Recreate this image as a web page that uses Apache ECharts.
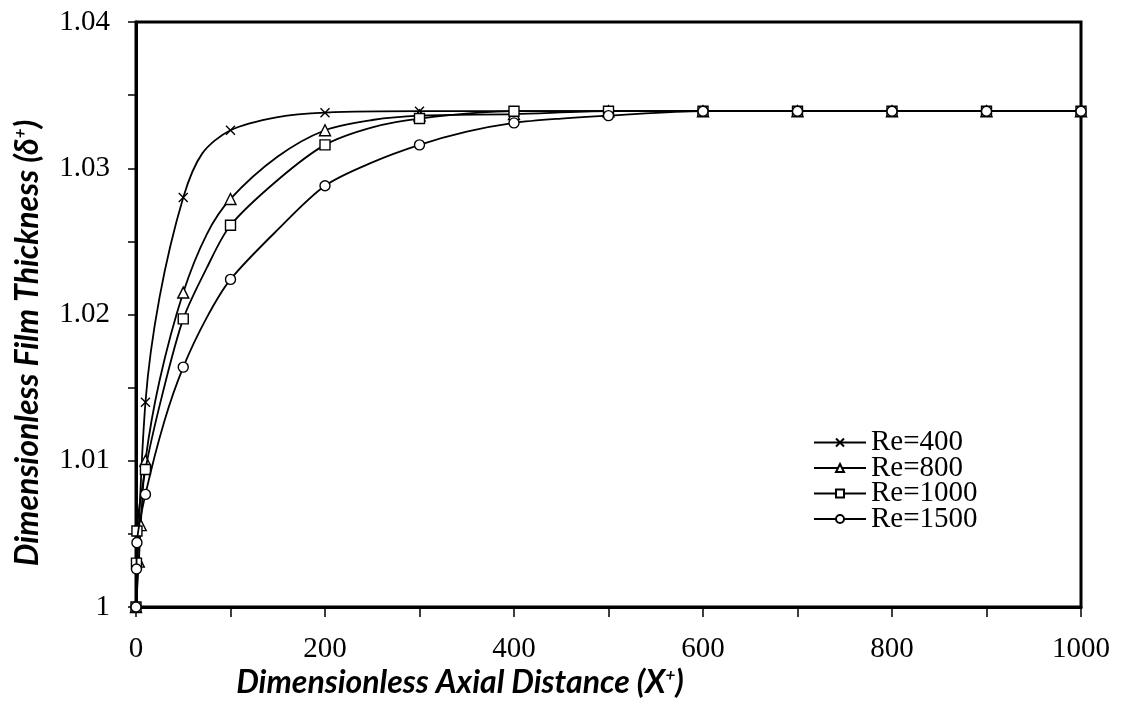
<!DOCTYPE html>
<html>
<head>
<meta charset="utf-8">
<title>Film thickness development</title>
<script src="https://cdn.jsdelivr.net/npm/echarts@6/dist/echarts.min.js"></script>
<style>
  html, body { margin: 0; padding: 0; background: #fff; }
  #chart { width: 1124px; height: 702px; }
</style>
</head>
<body>
<div id="chart"></div>
<script>
// Axis ticks
const xMin = 0, xMax = 1000, xStep = 100, xLabelStep = 200;
const yMin = 1, yMax = 1.04, yStep = 0.005, yLabelStep = 0.01;

// Series names and axis titles
const seriesNames = ['Re=400', 'Re=800', 'Re=1000', 'Re=1500'];
const xTitle = 'Dimensionless Axial Distance (X{s|+})';
const yTitle = 'Dimensionless Film Thickness (δ{s|+})';

// Marked data points [X+, delta+]
const re400Marks = [[0, 1], [10, 1.0140], [50, 1.0280], [100, 1.0326], [200, 1.0338], [300, 1.0339],
  [400, 1.0339], [500, 1.0339], [600, 1.0339], [700, 1.0339], [800, 1.0339], [900, 1.0339], [1000, 1.0339]];
const re800Marks = [[0, 1], [3, 1.0031], [5, 1.0056], [10, 1.0100], [50, 1.0215], [100, 1.0279], [200, 1.0326],
  [300, 1.0336], [400, 1.0337], [500, 1.0339], [600, 1.0339], [700, 1.0339], [800, 1.0339], [900, 1.0339], [1000, 1.0339]];
const re1000Marks = [[0, 1], [0.5, 1.0030], [1, 1.0052], [10, 1.0094], [50, 1.0197], [100, 1.0261], [200, 1.0316],
  [300, 1.0334], [400, 1.0339], [500, 1.0339], [600, 1.0339], [700, 1.0339], [800, 1.0339], [900, 1.0339], [1000, 1.0339]];
const re1500Marks = [[0, 1], [0.5, 1.0026], [1, 1.0044], [10, 1.0077], [50, 1.0164], [100, 1.0224], [200, 1.0288],
  [300, 1.0316], [400, 1.0331], [500, 1.0336], [600, 1.0339], [700, 1.0339], [800, 1.0339], [900, 1.0339], [1000, 1.0339]];

// Intermediate solution points (drawn as curve only)
const re400Curve = [[25, 1.0212], [70, 1.0310], [150, 1.0335]];
const re800Curve = [[25, 1.0155], [75, 1.0255], [150, 1.0308], [250, 1.0333]];
const re1000Curve = [[27, 1.0143], [75, 1.0232], [150, 1.0292], [250, 1.0328]];
const re1500Curve = [[30, 1.0127], [75, 1.0198], [150, 1.0258], [250, 1.0304], [350, 1.0325], [450, 1.0334]];

const marksList = [re400Marks, re800Marks, re1000Marks, re1500Marks];
const curveList = [re400Curve, re800Curve, re1000Curve, re1500Curve];

// Hollow marker shapes, one per Reynolds number
const crossPath = 'path://M0,0L10,10M10,0L0,10';
const symbols = [crossPath, 'triangle', 'rect', 'circle'];
const symbolSizes = [9, 11, 10, 10];

function buildData(marks, curve) {
  const items = marks.map(p => ({ value: p, marked: true }))
    .concat(curve.map(p => ({ value: p, marked: false })));
  items.sort((a, b) => a.value[0] - b.value[0]);
  return items.map(it => it.marked ? { value: it.value } : { value: it.value, symbol: 'none' });
}

const serifFont = '"Liberation Serif", "Times New Roman", serif';
const titleFont = 'Lato, "Open Sans", sans-serif';

const series = seriesNames.map((name, i) => ({
  name: name,
  type: 'line',
  data: buildData(marksList[i], curveList[i]),
  smooth: 0.3,
  clip: false,
  symbol: symbols[i],
  symbolSize: symbolSizes[i],
  showAllSymbol: true,
  lineStyle: { color: '#000', width: 1.8 },
  itemStyle: { color: '#fff', borderColor: '#000', borderWidth: 1.4 },
  emphasis: { disabled: true },
  z: 3 + i
}));

function titleText(text) {
  return {
    text: text,
    fill: '#000',
    fontFamily: titleFont, fontSize: 32, fontWeight: 'bold', fontStyle: 'italic',
    align: 'center', verticalAlign: 'middle',
    rich: {
      s: { fontFamily: titleFont, fontSize: 17, fontWeight: 'bold', fontStyle: 'italic', fill: '#000', padding: [0, 0, 14, 0] }
    }
  };
}

const chart = echarts.init(document.getElementById('chart'), null, { renderer: 'canvas' });

chart.setOption({
  animation: false,
  backgroundColor: '#fff',
  grid: {
    left: 136, right: 43, top: 22, bottom: 95,
    outerBoundsMode: 'none',
    show: true, borderColor: '#000', borderWidth: 3, backgroundColor: 'transparent'
  },
  legend: {
    orient: 'vertical',
    left: 808, top: 423,
    itemWidth: 52, itemHeight: 10, itemGap: -3.5,
    data: seriesNames,
    textStyle: { fontFamily: serifFont, fontSize: 29, color: '#000', lineHeight: 25 },
    selectedMode: false
  },
  graphic: [
    { type: 'text', x: 460, y: 683, style: titleText(xTitle), silent: true },
    { type: 'text', x: 28, y: 343, rotation: Math.PI / 2, style: titleText(yTitle), silent: true }
  ],
  xAxis: {
    type: 'value',
    min: xMin, max: xMax, interval: xStep,
    splitLine: { show: false },
    axisLine: { show: true, lineStyle: { color: '#000', width: 3 } },
    axisTick: { show: true, inside: false, length: 10, lineStyle: { color: '#000', width: 1.5 } },
    axisLabel: {
      margin: 28, color: '#000', fontFamily: serifFont, fontSize: 29,
      formatter: v => (Math.round(v) % xLabelStep === 0 ? String(Math.round(v)) : '')
    }
  },
  yAxis: {
    type: 'value',
    min: yMin, max: yMax, interval: yStep,
    splitLine: { show: false },
    axisLine: { show: true, lineStyle: { color: '#000', width: 3 } },
    axisTick: { show: true, inside: false, length: 8, lineStyle: { color: '#000', width: 1.5 } },
    axisLabel: {
      margin: 26, color: '#000', fontFamily: serifFont, fontSize: 29,
      formatter: v => {
        const k = Math.round((v - yMin) / yStep);
        if (k % Math.round(yLabelStep / yStep) !== 0) return '';
        return String(parseFloat(v.toFixed(2)));
      }
    }
  },
  series: series
});
</script>
</body>
</html>
